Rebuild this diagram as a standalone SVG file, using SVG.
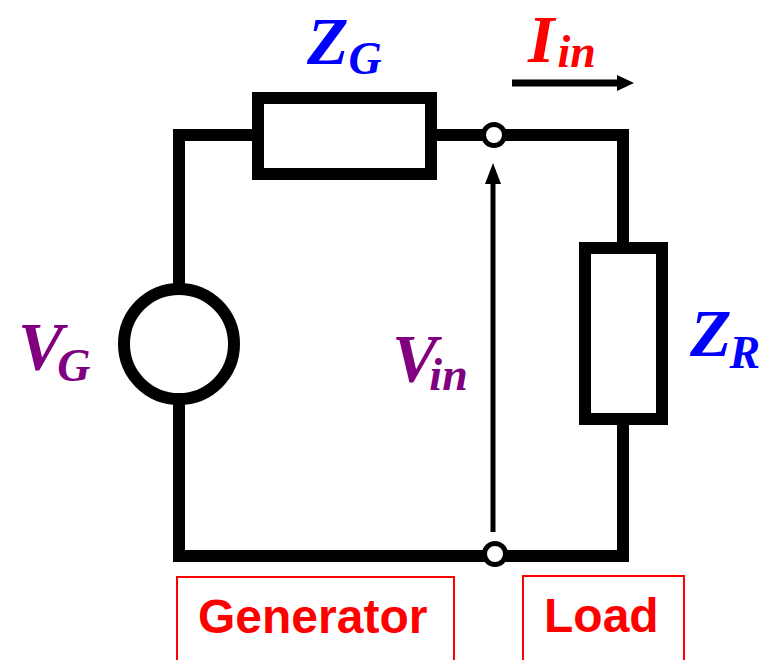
<svg xmlns="http://www.w3.org/2000/svg" width="761" height="660" viewBox="0 0 761 660">
<style>
.w{fill:none;stroke:#000;stroke-width:12;stroke-linecap:square;stroke-linejoin:miter}
.term{fill:#fff;stroke:#000;stroke-width:5}
.lbl{font-family:"Liberation Serif","Times New Roman",serif;font-style:italic;font-weight:bold;font-size:68px}
.sub{font-size:46px}
.box{fill:none;stroke:#ff0000;stroke-width:2}
.bt{font-family:"Liberation Sans",Arial,sans-serif;font-weight:bold;fill:#ff0000;font-size:48px}
</style>
<rect width="761" height="660" fill="#fff"/>
<g id="connectors">
<path class="w" d="M258 135 H179 V289"/>
<path class="w" d="M179 399 V556 H483"/>
<path class="w" d="M506 556 H623 V419"/>
<path class="w" d="M623 248 V135 H506"/>
<path class="w" d="M431 135 H483"/>
<line x1="493" y1="532" x2="493" y2="180" stroke="#000" stroke-width="5"/>
<polygon points="493,163 485,184 501,184" fill="#000"/>
<line x1="512" y1="83" x2="619" y2="83" stroke="#000" stroke-width="7"/>
<polygon points="634,83 617,75 617,91" fill="#000"/>
</g>
<g id="source"><circle class="w" cx="179" cy="344" r="55"/></g>
<g id="ZG"><rect class="w" x="258" y="98" width="173" height="76"/></g>
<g id="ZR"><rect class="w" x="585" y="248" width="77" height="171"/></g>
<g id="term-top"><circle class="term" cx="494" cy="135" r="10.5"/></g>
<g id="term-bot"><circle class="term" cx="495" cy="554" r="10.5"/></g>
<g id="labels">
<text class="lbl" fill="#0000ff" x="307" y="64">Z<tspan class="sub" dy="10">G</tspan></text>
<text class="lbl" fill="#ff0000" x="528" y="62">I<tspan class="sub" dx="3" dy="5">in</tspan></text>
<text class="lbl" fill="#800080" x="18" y="369">V<tspan class="sub" dx="-6" dy="12">G</tspan></text>
<text class="lbl" fill="#800080" x="392" y="381">V<tspan class="sub" dx="-8" dy="9">in</tspan></text>
<text class="lbl" fill="#0000ff" x="690" y="356">Z<tspan class="sub" dx="-2" dy="12">R</tspan></text>
</g>
<g id="generator"><rect class="box" x="177" y="577" width="277" height="100"/><text class="bt" x="198" y="633">Generator</text></g>
<g id="load"><rect class="box" x="523" y="576" width="161" height="100"/><text class="bt" x="544" y="632">Load</text></g>
</svg>
